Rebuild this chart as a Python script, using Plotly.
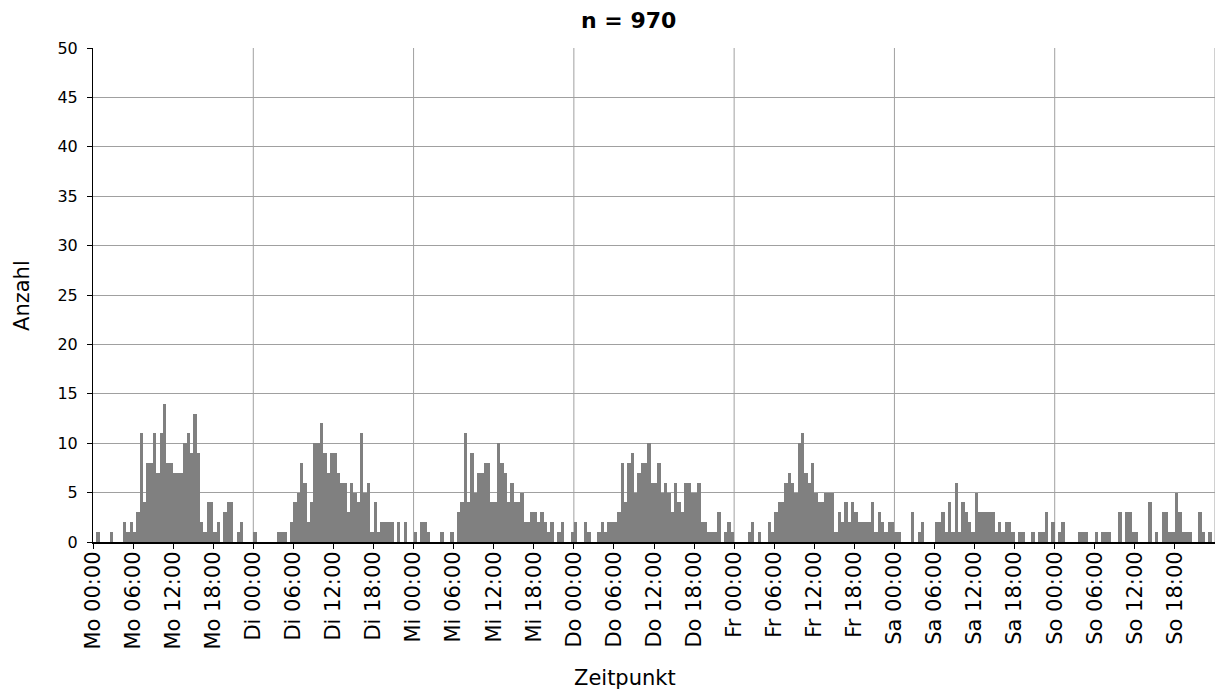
import plotly.graph_objects as go

# 30-minute bins over one week (Mo 00:00 .. So 24:00), counts per bin
mo = [0,1,0,0,0,1,0,0,0,2,1,2,1,3,11,4,8,8,11,7,11,14,8,8,
      7,7,7,10,11,9,13,9,2,1,4,4,1,2,0,3,4,4,0,1,2,0,0,0]
di = [1,0,0,0,0,0,0,1,1,1,0,2,4,5,8,6,2,4,10,10,12,9,7,9,
      9,7,6,6,3,6,5,4,11,5,6,1,4,1,2,2,2,2,0,2,0,2,0,0]
mi = [1,0,2,2,1,0,0,0,1,0,0,1,0,3,4,11,4,9,5,7,7,8,8,4,
      4,10,8,7,4,6,4,4,5,2,2,3,3,2,3,2,1,2,0,1,2,0,0,1]
do = [2,0,0,2,1,0,0,1,2,1,2,2,2,3,8,4,8,9,5,7,8,8,10,6,
      6,8,5,6,5,3,6,4,3,6,6,5,5,6,2,2,1,1,1,3,0,1,2,1]
fr = [0,0,0,0,1,2,0,1,0,0,2,1,3,4,4,6,7,6,5,10,11,7,6,8,
      5,4,4,5,5,5,1,3,2,4,2,4,3,2,2,2,2,4,1,3,2,1,2,2]
sa = [1,1,0,0,0,3,0,1,2,0,0,0,2,2,3,1,4,1,6,1,4,3,2,1,
      5,3,3,3,3,3,1,2,1,2,2,1,0,1,1,0,0,1,0,1,1,3,0,2]
so = [0,1,2,0,0,0,0,1,1,1,0,0,1,0,1,1,1,0,0,3,0,3,3,1,
      1,0,0,0,4,0,1,0,3,3,1,1,5,3,1,1,1,0,0,3,1,0,1,0]

days = ["Mo", "Di", "Mi", "Do", "Fr", "Sa", "So"]
hours_labels = [0, 6, 12, 18]
bin_hours = 0.5
title_text = "n = 970"
x_title = "Zeitpunkt"
y_title = "Anzahl"

counts = mo + di + mi + do + fr + sa + so
x_centers = [(i + 0.5) * bin_hours for i in range(len(counts))]
tickvals = [d * 24 + h for d in range(len(days)) for h in hours_labels]
ticktext = [f"{days[d]} {h:02d}:00" for d in range(len(days)) for h in hours_labels]
day_bounds = [d * 24 for d in range(len(days) + 1)]

FONT = "DejaVu Sans"
fig = go.Figure()
fig.add_trace(go.Bar(
    x=x_centers, y=counts, width=bin_hours,
    marker=dict(color="#808080", line=dict(width=0)),
    hoverinfo="x+y",
))

shapes = [dict(type="line", xref="x", yref="paper", x0=b, x1=b, y0=0, y1=1,
               line=dict(color="#a0a0a0", width=1), layer="below")
          for b in day_bounds[1:]]

annotations = [
    dict(text=x_title, xref="paper", yref="paper", x=0.474, y=-0.2753,
         xanchor="center", yanchor="middle", showarrow=False,
         font=dict(family=FONT, size=21, color="black")),
    dict(text=y_title, xref="paper", yref="paper", x=-0.0633, y=0.5,
         xanchor="center", yanchor="middle", showarrow=False, textangle=-90,
         font=dict(family=FONT, size=21, color="black")),
]

fig.update_layout(
    width=1216, height=693,
    margin=dict(l=93, r=1, t=48, b=151),
    paper_bgcolor="white", plot_bgcolor="white",
    bargap=0,
    showlegend=False,
    shapes=shapes,
    annotations=annotations,
    title=dict(text=f"<b>{title_text}</b>", x=0.517, xanchor="center",
               y=0.971, yanchor="middle", font=dict(family=FONT, size=22, color="black")),
    font=dict(family=FONT, color="black"),
)
fig.update_xaxes(
    range=[0, 168], automargin=False,
    tickmode="array", tickvals=tickvals, ticktext=ticktext,
    tickangle=-90, tickfont=dict(size=21),
    ticks="outside", ticklen=5, tickcolor="black",
    ticklabelstandoff=-6,
    showgrid=False, zeroline=False,
    showline=True, linecolor="black", linewidth=2,
)
fig.update_yaxes(
    range=[0, 50], dtick=5, automargin=False,
    tickfont=dict(size=16),
    ticks="outside", ticklen=5, tickcolor="black",
    ticklabelstandoff=6,
    showgrid=True, gridcolor="#a0a0a0", gridwidth=1,
    zeroline=False,
    showline=True, linecolor="black", linewidth=1,
)
fig.write_html("out.html", config={"displayModeBar": False},
               post_script="document.body.style.margin='0';")
